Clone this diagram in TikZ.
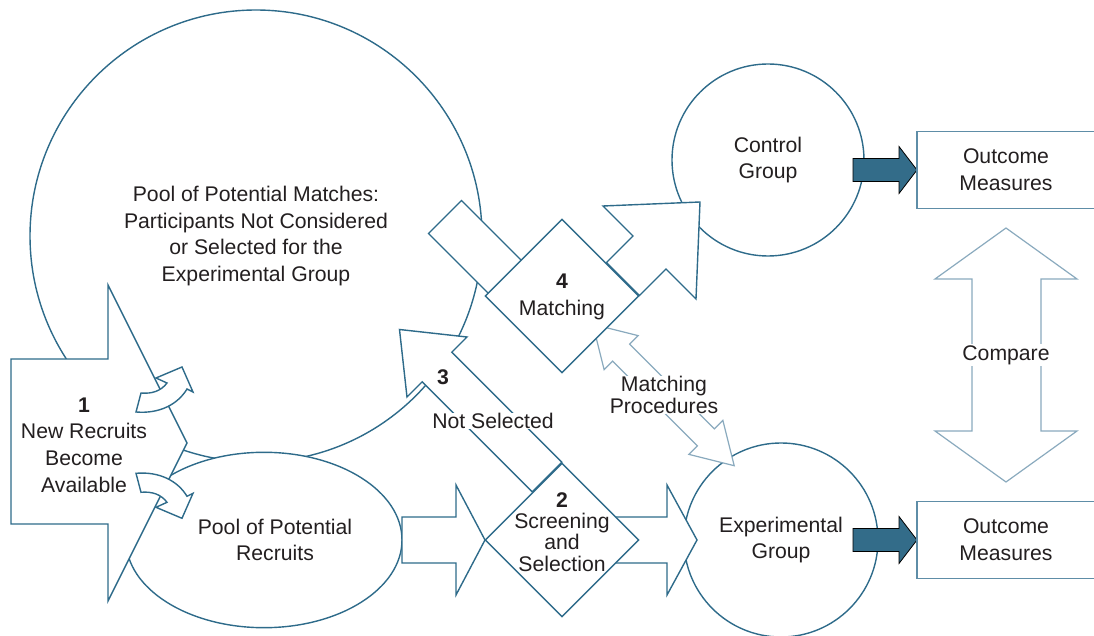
\documentclass[tikz,border=0pt]{standalone}
\usepackage{fontspec}
\setmainfont{Liberation Sans}
\usepackage{xcolor}
\usepackage{tikz}
\usetikzlibrary{shapes.geometric, positioning}

\definecolor{flowblue}{HTML}{2E6B8A}
\definecolor{flowdark}{HTML}{336C89}
\definecolor{boxblue}{HTML}{5E8DA7}
\definecolor{softblue}{HTML}{8AAABE}
\definecolor{inkgray}{HTML}{231F20}

\begin{document}
\begin{tikzpicture}[
  x=0.5pt, y=-0.5pt,
  every node/.style={font=\fontsize{10.6}{13.3}\selectfont, text=inkgray},
  groupcircle/.style={circle, draw=flowblue, fill=white, line width=0.7pt, align=center, inner sep=0pt},
  poolellipse/.style={ellipse, draw=flowblue, fill=white, line width=0.7pt, inner sep=0pt},
  stepdiamond/.style={diamond, draw=flowblue, fill=white, line width=0.7pt, minimum width=77pt, minimum height=77pt, inner sep=0pt},
  outbox/.style={rectangle, draw=boxblue, fill=white, line width=0.7pt, minimum width=89pt, minimum height=38.3pt, align=center},
  block/.style={draw=flowblue, fill=white, line width=0.7pt},
  softblock/.style={draw=softblue, fill=white, line width=0.6pt},
  solidblock/.style={fill=flowdark},
  caption/.style={align=center, inner sep=0pt},
  cutout/.style={caption, fill=white}
]
\useasboundingbox (0,0) rectangle (1094,636);
\clip (0,0) rectangle (1094,636);

% pools and groups
\node[groupcircle, minimum size=226pt] (matches) at (256,236) {Pool of Potential Matches:\\Participants Not Considered\\or Selected for the\\Experimental Group};
\node[poolellipse, minimum width=138pt, minimum height=87.7pt] (recruits) at (264,540) {};
\node[groupcircle, minimum size=96pt] (control) at (768,160) {Control\\Group};
\node[groupcircle, minimum size=97pt] (experimental) at (781,540) {Experimental\\Group};

% step 1: new recruits
\draw[block] (11,359) -- (108,359) -- (108,285) -- (187,443) -- (108,601) -- (108,524) -- (11,524) -- cycle;
\draw[block] (141,393) .. controls (152,394) and (161,391) .. (167,383) -- (156,378) -- (182,367) -- (193,392) -- (187,389)
  .. controls (178,404) and (160,414) .. (136,412) -- cycle;
\draw[block] (141,492.3) .. controls (152,491.3) and (161,494.3) .. (167,502.3) -- (156,507.3) -- (182,518.3) -- (193,493.3) -- (187,496.3)
  .. controls (178,481.3) and (160,471.3) .. (136,473.3) -- cycle;

% recruits -> screening -> experimental group
\draw[block] (402,517) -- (456,517) -- (456,485) -- (485,540) -- (456,595) -- (456,563) -- (402,563) -- cycle;
\draw[block] (590,517) -- (667,517) -- (667,485) -- (697,540) -- (667,595) -- (667,563) -- (590,563) -- cycle;

% step 3: back to the pool of matches
\draw[block] (532.2,491.8) -- (422.2,381.8) -- (407,397) -- (399.5,329.5) -- (467,337) -- (451.8,352.2) -- (561.8,462.2) -- cycle;

% step 4: pool of matches -> matching -> control group
\draw[block] (428.5,233.5) -- (461.5,200.5) -- (524,263) -- (491,296) -- cycle;
\draw[block] (606.5,262.5) -- (633,236) -- (603,206) -- (700,202) -- (696,299) -- (666,269) -- (639.5,295.5) -- cycle;

% matching procedures and compare
\draw[softblock] (592.8,324.3) -- (638.1,335.6) -- (629.6,344.1) -- (714.4,428.9) -- (722.9,420.4) -- (734.2,465.7)
  -- (688.9,454.4) -- (697.4,445.9) -- (612.6,361.1) -- (604.1,369.6) -- cycle;
\draw[softblock] (1006,228) -- (1077,279) -- (1041,279) -- (1041,431) -- (1077,431) -- (1006,482) -- (935,431) -- (972,431)
  -- (972,279) -- (935,279) -- cycle;

% groups -> outcome measures
\draw[solidblock] (853,158.5) -- (899,158.5) -- (899,146.5) -- (917,170) -- (899,193.5) -- (899,181.5) -- (853,181.5) -- cycle;
\draw[solidblock] (853,528.5) -- (899,528.5) -- (899,516.5) -- (917,540) -- (899,563.5) -- (899,551.5) -- (853,551.5) -- cycle;
\node[outbox] (ctrlout) at (1006,170) {Outcome\\Measures};
\node[outbox] (expout) at (1006,540) {Outcome\\Measures};

% decision steps
\node[stepdiamond] (screening) at (562,540) {};
\node[stepdiamond] (matching) at (562,296) {};

% labels
\node[caption] (newtext) at (84,445) {\textbf{1}\\New Recruits\\Become\\Available};
\node[caption] (recruitstext) at (275,540) {Pool of Potential\\Recruits};
\node[caption, font=\fontsize{10.6}{10.6}\selectfont] (screeningtext) at (562,532) {\textbf{2}\\Screening\\and\\Selection};
\node[caption] (matchingtext) at (562,297) {\textbf{4}\\Matching};
\node[caption] (three) at (443,377) {\textbf{3}};
\node[cutout] (notselected) at (493,421) {Not Selected};
\node[cutout, font=\fontsize{10.6}{11}\selectfont] (procedures) at (664,395) {Matching\\Procedures};
\node[cutout, inner sep=0.5pt] (compare) at (1006,355) {Compare};
\end{tikzpicture}
\end{document}
